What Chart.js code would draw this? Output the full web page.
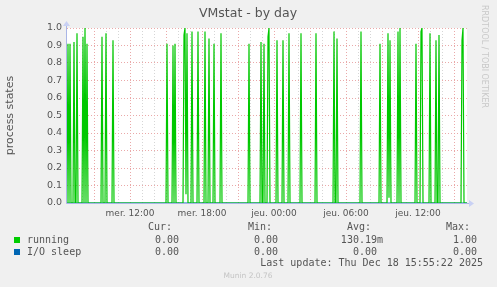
<!DOCTYPE html>
<html>
<head>
<meta charset="utf-8">
<title>VMstat - by day</title>
<script src="https://cdn.jsdelivr.net/npm/chart.js@4/dist/chart.umd.min.js"></script>
<style>
  html, body { margin: 0; padding: 0; background: #f0f0f0; }
  #wrap { width: 497px; height: 287px; }
</style>
</head>
<body>
<div id="wrap"><canvas id="grafico" width="497" height="287"></canvas></div>
<script>
// x values are minutes since Wednesday 00:00, one sample every 5 minutes
const startMin = 405;
const endMin = 2405;

// peaks of the "running" series (everything else sits at 0)
const spikeMinutes = [410, 420, 440, 455, 485, 495, 505, 580, 600, 635,
    905, 935, 945, 990, 995, 1000, 1005, 1030, 1060, 1095, 1115, 1140, 1175,
    1315, 1375, 1390, 1410, 1415, 1455, 1485, 1515, 1575, 1650,
    1740, 1755, 1875, 1970, 2010, 2015, 2020, 2060, 2070,
    2150, 2175, 2180, 2220, 2250, 2265, 2380, 2385];
const spikeValues = [0.91, 0.91, 0.92, 0.97, 0.95, 1.0, 0.91, 0.95, 0.97, 0.93,
    0.91, 0.90, 0.91, 0.96, 1.0, 0.05, 0.97, 0.98, 0.98, 0.98, 0.94, 0.91, 0.97,
    0.91, 0.92, 0.91, 0.95, 1.0, 0.93, 0.93, 0.97, 0.97, 0.97,
    0.98, 0.94, 0.98, 0.91, 0.97, 0.03, 0.93, 0.98, 1.0,
    0.91, 0.98, 1.0, 0.97, 0.93, 0.96, 0.93, 1.0];

const ioSleepMinutes = [405, 2405];
const ioSleepValues = [0, 0];

// legend table
const seriesNames = ['running', 'I/O sleep'];
const seriesColors = ['#00cc00', '#0066b3'];
const curValues = ['0.00', '0.00'];
const minValues = ['0.00', '0.00'];
const avgValues = ['130.19m', '0.00'];
const maxValues = ['1.00', '0.00'];
const lastUpdate = 'Last update: Thu Dec 18 15:55:22 2025';

const dayNames = ['mer.', 'jeu.'];

const running = [];
for (let t = startMin; t <= endMin; t += 5) {
    const i = spikeMinutes.indexOf(t);
    running.push({ x: t, y: i >= 0 ? spikeValues[i] : 0 });
}
const ioSleep = ioSleepMinutes.map((t, i) => ({ x: t, y: ioSleepValues[i] }));

function tickLabel(v) {
    if (v % 360 !== 0) return '';
    const day = dayNames[Math.floor(v / 1440)];
    const h = (v % 1440) / 60;
    return day + ' ' + String(h).padStart(2, '0') + ':00';
}

const muninPlugin = {
    id: 'munin',
    beforeDraw(chart) {
        const a = chart.chartArea;
        const ctx = chart.ctx;
        ctx.save();
        ctx.fillStyle = '#f0f0f0';
        ctx.fillRect(0, 0, chart.width, chart.height);
        ctx.fillStyle = '#ffffff';
        ctx.fillRect(a.left, a.top, a.right - a.left, a.bottom - a.top);
        ctx.restore();
    },
    afterDatasetsDraw(chart) {
        const a = chart.chartArea;
        const ctx = chart.ctx;
        ctx.save();
        ctx.strokeStyle = '#a9b5e6';
        ctx.lineWidth = 1;
        ctx.beginPath();
        ctx.moveTo(a.left - 0.5, a.bottom + 0.5);
        ctx.lineTo(a.right + 3, a.bottom + 0.5);
        ctx.moveTo(a.left - 0.5, a.bottom + 0.5);
        ctx.lineTo(a.left - 0.5, a.top - 3);
        ctx.stroke();
        ctx.fillStyle = '#c9d1f4';
        ctx.beginPath();
        ctx.moveTo(a.right + 7, a.bottom + 0.5);
        ctx.lineTo(a.right + 2, a.bottom - 3);
        ctx.lineTo(a.right + 2, a.bottom + 4);
        ctx.closePath();
        ctx.fill();
        ctx.beginPath();
        ctx.moveTo(a.left - 0.5, a.top - 7);
        ctx.lineTo(a.left - 4, a.top - 2);
        ctx.lineTo(a.left + 3, a.top - 2);
        ctx.closePath();
        ctx.fill();
        ctx.restore();
    },
    afterDraw(chart) {
        const ctx = chart.ctx;
        ctx.save();
        // title
        ctx.fillStyle = '#555555';
        ctx.font = '12.5px "DejaVu Sans"';
        ctx.textAlign = 'center';
        ctx.textBaseline = 'middle';
        ctx.fillText('VMstat - by day', 248, 14);

        // side text
        ctx.save();
        ctx.translate(484, 5);
        ctx.rotate(Math.PI / 2);
        ctx.fillStyle = '#c8c8c8';
        ctx.font = '8px "DejaVu Sans"';
        ctx.textAlign = 'left';
        ctx.textBaseline = 'middle';
        ctx.fillText('RRDTOOL / TOBI OETIKER', 0, 0);
        ctx.restore();

        // legend
        ctx.font = '10px "DejaVu Sans Mono"';
        ctx.textBaseline = 'middle';
        ctx.textAlign = 'right';
        ctx.fillStyle = '#555555';
        ctx.fillText('Cur:', 172, 227.5);
        ctx.fillText('Min:', 272, 227.5);
        ctx.fillText('Avg:', 371, 227.5);
        ctx.fillText('Max:', 470, 227.5);
        seriesNames.forEach((name, i) => {
            const y = 240 + i * 12;
            ctx.fillStyle = seriesColors[i];
            ctx.fillRect(14, y - 3, 6, 6);
            ctx.fillStyle = '#555555';
            ctx.textAlign = 'left';
            ctx.fillText(name, 27, y);
            ctx.textAlign = 'right';
            ctx.fillText(curValues[i], 179, y);
            ctx.fillText(minValues[i], 278, y);
            const avg = avgValues[i];
            ctx.fillText(avg, avg.endsWith('m') ? 383 : 377, y);
            ctx.fillText(maxValues[i], 477, y);
        });
        ctx.textAlign = 'right';
        ctx.fillText(lastUpdate, 483, 263.5);

        ctx.fillStyle = '#c4c4c4';
        ctx.font = '7.5px "DejaVu Sans"';
        ctx.textAlign = 'center';
        ctx.fillText('Munin 2.0.76', 248, 276);
        ctx.restore();
    }
};

const ctx = document.getElementById('grafico').getContext('2d');
new Chart(ctx, {
    type: 'line',
    data: {
        datasets: [
            {
                label: 'running',
                data: running,
                borderColor: '#00c800',
                borderWidth: 1.2,
                pointRadius: 0,
                tension: 0,
                fill: false
            },
            {
                label: 'I/O sleep',
                data: ioSleep,
                borderColor: '#0066b3',
                borderWidth: 1,
                pointRadius: 0,
                fill: false
            }
        ]
    },
    options: {
        responsive: false,
        animation: false,
        layout: { padding: { top: 28, right: 30, left: 0, bottom: 0 } },
        plugins: {
            legend: { display: false },
            tooltip: { enabled: false }
        },
        scales: {
            x: {
                type: 'linear',
                min: startMin,
                max: endMin,
                afterFit(scale) { scale.height = 84; },
                afterBuildTicks(scale) {
                    scale.ticks = scale.ticks.filter(t => t.value % 60 === 0);
                },
                ticks: {
                    stepSize: 60,
                    autoSkip: false,
                    maxRotation: 0,
                    padding: 5,
                    color: '#555555',
                    font: { family: 'DejaVu Sans', size: 9 },
                    callback: tickLabel
                },
                grid: {
                    drawTicks: false,
                    color: c => (c.tick && c.tick.value % 180 === 0) ? '#eaa9a9' : '#d6d6d6'
                },
                border: { display: false, dash: [1, 2] }
            },
            y: {
                min: 0,
                max: 1,
                afterFit(scale) { scale.width = 67; },
                ticks: {
                    stepSize: 0.1,
                    padding: 5,
                    color: '#555555',
                    font: { family: 'DejaVu Sans', size: 9.5 },
                    callback: v => v.toFixed(1)
                },
                grid: {
                    drawTicks: false,
                    color: '#eaa9a9'
                },
                border: { display: false, dash: [1, 2] },
                title: {
                    display: true,
                    text: 'process states',
                    color: '#555555',
                    font: { family: 'DejaVu Sans', size: 11 },
                    padding: { top: 4, bottom: 0 }
                }
            }
        }
    },
    plugins: [muninPlugin]
});
</script>
</body>
</html>
